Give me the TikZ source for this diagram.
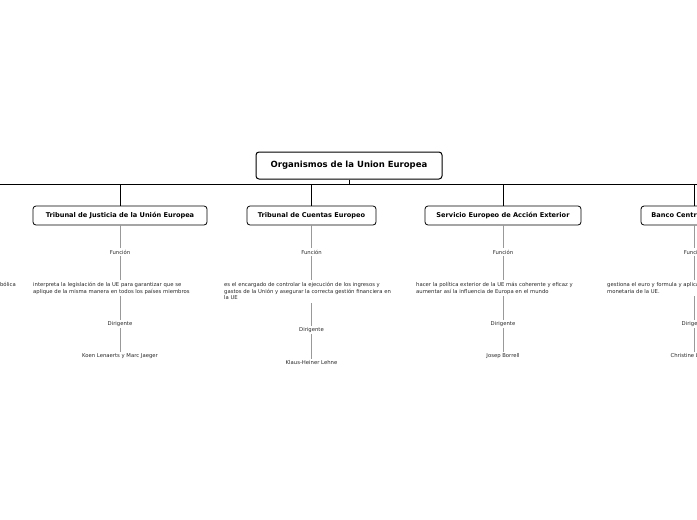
\documentclass[tikz,border=0pt]{standalone}
\usepackage{fontspec}
\setmainfont{DejaVu Sans}
\begin{document}
\begin{tikzpicture}[x=1pt,y=-1pt,
  root/.style={draw=black,line width=1pt,rounded corners=3pt,fill=white,minimum width=186pt,minimum height=27pt,font=\bfseries\fontsize{8.5}{10}\selectfont},
  org/.style={draw=black,line width=0.8pt,rounded corners=3pt,fill=white,minimum height=19pt,inner xsep=6pt,font=\bfseries\fontsize{6.6}{8}\selectfont},
  lbl/.style={inner sep=1.5pt,font=\fontsize{5.3}{6.3}\selectfont,text=black!85},
  desc/.style={inner sep=0pt,align=left,anchor=north west,font=\fontsize{5.3}{6.3}\selectfont,text=black!85},
  bus/.style={draw=black,line width=0.9pt,rounded corners=3pt},
  sub/.style={draw=black!40,line width=0.7pt}]
\useasboundingbox (0,0) rectangle (697,520);
\clip (0,0) rectangle (697,520);
\node[root] (root) at (349,165.5) {Organismos de la Union Europea};
\coordinate (busL) at (0,184);
\coordinate (busR) at (697,184);
\draw[bus] (root.south) -- (349,184);
\draw[bus] (busL) -- (busR);
% orgs
\node[org,minimum width=174pt] (o1) at (120,215.5) {Tribunal de Justicia de la Unión Europea};
\node[org,minimum width=129pt] (o2) at (311.5,215.5) {Tribunal de Cuentas Europeo};
\node[org,minimum width=156pt] (o3) at (503,215.5) {Servicio Europeo de Acción Exterior};
\node[org,minimum width=106pt] (o4) at (694,215.5) {Banco Central Europeo};
\foreach \o/\x in {o1/120,o2/311.5,o3/503,o4/694}{
  \draw[bus] (\o.north) -- (\x,184);
}
% branch 1
\node[lbl] (f1) at (120,252) {Función};
\node[desc] (d1) at (33,282.5) {interpreta la legislación de la UE para garantizar que se\\aplique de la misma manera en todos los países miembros};
\coordinate (d1t) at (120,280);
\coordinate (d1b) at (120,296);
\node[lbl] (g1) at (120,324) {Dirigente};
\node[lbl] (n1) at (120,356) {Koen Lenaerts y Marc Jaeger};
\draw[sub] (o1.south) -- (f1.north);
\draw[sub] (f1.south) -- (d1t);
\draw[sub] (d1b) -- (g1.north);
\draw[sub] (g1.south) -- (n1.north);
% branch 2
\node[lbl] (f2) at (311.5,252) {Función};
\node[desc] (d2) at (224,282.5) {es el encargado de controlar la ejecución de los ingresos y\\gastos de la Unión y asegurar la correcta gestión financiera en\\la UE};
\coordinate (d2t) at (311.5,280);
\coordinate (d2b) at (311.5,303);
\node[lbl] (g2) at (311.5,330) {Dirigente};
\node[lbl] (n2) at (311.5,363) {Klaus-Heiner Lehne};
\draw[sub] (o2.south) -- (f2.north);
\draw[sub] (f2.south) -- (d2t);
\draw[sub] (d2b) -- (g2.north);
\draw[sub] (g2.south) -- (n2.north);
% branch 3
\node[lbl] (f3) at (503,252) {Función};
\node[desc] (d3) at (416,282.5) {hacer la política exterior de la UE más coherente y eficaz y\\aumentar así la influencia de Europa en el mundo};
\coordinate (d3t) at (503,280);
\coordinate (d3b) at (503,296);
\node[lbl] (g3) at (503,324) {Dirigente};
\node[lbl] (n3) at (503,356) {Josep Borrell};
\draw[sub] (o3.south) -- (f3.north);
\draw[sub] (f3.south) -- (d3t);
\draw[sub] (d3b) -- (g3.north);
\draw[sub] (g3.south) -- (n3.north);
% branch 4
\node[lbl] (f4) at (694,252) {Función};
\node[desc] (d4) at (607,282.5) {gestiona el euro y formula y aplica la política económica y\\monetaria de la UE.};
\coordinate (d4t) at (694,280);
\coordinate (d4b) at (694,296);
\node[lbl] (g4) at (694,324) {Dirigente};
\node[lbl] (n4) at (694,356) {Christine Lagarde};
\draw[sub] (o4.south) -- (f4.north);
\draw[sub] (f4.south) -- (d4t);
\draw[sub] (d4b) -- (g4.north);
\draw[sub] (g4.south) -- (n4.north);
% clipped left branch text
\node[desc,anchor=north east] (d0) at (16,282.5) {bólica};
\end{tikzpicture}
\end{document}
